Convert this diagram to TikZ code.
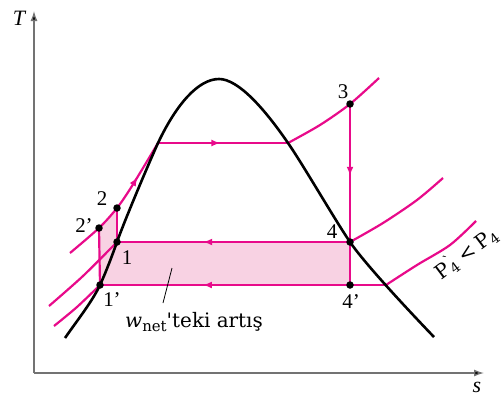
\documentclass[tikz,border=0pt]{standalone}
\usepackage{fontspec}
\setmainfont{Liberation Serif}
\newfontfamily\widefont{DejaVu Serif}
\usetikzlibrary{arrows.meta,decorations.markings}
\definecolor{cyclepink}{RGB}{232,10,138}
\definecolor{areapink}{RGB}{248,210,227}

\begin{document}
\begin{tikzpicture}[x=1bp,y=-1bp,>=Latex,
  every node/.style={font=\fontsize{21}{23}\selectfont,inner sep=1pt},
  axis/.style={draw=black!55,line width=1.3bp,-{Latex[length=10bp,width=7bp,fill=black]}},
  dome/.style={draw=black,line width=2.6bp},
  isobar/.style={draw=cyclepink,line width=2.2bp},
  midarrow/.style={postaction={decorate},
    decoration={markings,mark=at position #1 with {\arrow{Latex[length=9bp,width=7bp]}}}},
  statept/.style={circle,fill=black,inner sep=0pt,minimum size=7.5bp}]

\useasboundingbox (0,0) rectangle (504,396);

% state points
\coordinate (p1)  at (117,242);
\coordinate (p1p) at (100,285);
\coordinate (p2)  at (117,208);
\coordinate (p2p) at (99,228);
\coordinate (p3)  at (350,104);
\coordinate (p4)  at (350,242);
\coordinate (p4p) at (350,285);
\coordinate (satl) at (158,143);
\coordinate (satv) at (288,143);
\coordinate (satw) at (386,285);
\coordinate (crit) at (219,79);

% increase in net work
\fill[areapink] (p1p) -- (p2p) -- (p2) -- (p1) -- (p4) -- (p4p) -- cycle;

% axes
\coordinate (origin) at (34,373);
\draw[axis] (origin) -- (34,11);
\draw[axis] (origin) -- (484,373);
\node[font=\fontsize{22}{24}\selectfont\itshape] (Tlab) at (19,18) {T};
\node[font=\fontsize{22}{24}\selectfont\itshape] (slab) at (477,387) {s};

% boiler pressure line
\draw[isobar,midarrow=0.72] plot[smooth] coordinates {(70,253) (p2p) (p2) (132,186) (satl)};
\draw[isobar,midarrow=0.48] (satl) -- (satv);
\draw[isobar] plot[smooth] coordinates {(satv) (320,125) (p3) (379,78)};

% turbine, pumps
\draw[isobar,midarrow=0.52] (p3) -- (p4);
\draw[isobar] (p4) -- (p4p);
\draw[isobar] (p2) -- (p1);
\draw[isobar] (p2p) -- (p1p);

% condenser pressure P4
\draw[isobar] plot[smooth] coordinates {(49,306) (83,276) (p1)};
\draw[isobar,midarrow=0.63] (p4) -- (p1);
\draw[isobar] plot[smooth] coordinates {(p4) (383,223) (417,200) (443,178)};

% lowered condenser pressure P'4
\draw[isobar] plot[smooth] coordinates {(54,326) (77,307) (p1p)};
\draw[isobar,midarrow=0.64] (satw) -- (p1p);
\draw[isobar] plot[smooth] coordinates {(satw) (417,265) (450,245) (476,221)};

% saturation dome
\draw[dome] (65,338) .. controls (76,322) and (92,302) .. (p1p)
  .. controls (106,272) and (112,256) .. (p1)
  .. controls (124,222) and (148,165) .. (satl)
  .. controls (176,105) and (198,79) .. (crit)
  .. controls (238,79) and (264,108) .. (satv)
  .. controls (302,163) and (335,220) .. (p4)
  .. controls (365,264) and (410,312) .. (434,337);

% dots
\foreach \pp in {p1,p1p,p2,p2p,p3,p4,p4p}{
  \node[statept] at (\pp) {};
}

% state labels
\node (l2)  at (102,199) {2};
\node (l2p) at (84,226) {2'};
\node (l1)  at (127,258) {1};
\node (l1p) at (112,300) {1'};
\node (l3)  at (343,92) {3};
\node (l4)  at (332,232) {4};
\node (l4p) at (351,302) {4'};

% annotation
\node[font=\fontsize{20}{22}\widefont] (wnet) at (194,322)
  {\textit{w}\raisebox{-0.4ex}{\fontsize{15}{15}\selectfont net}'teki artış};
\coordinate (leadfoot) at (163,303);
\coordinate (areapt) at (172,268);
\draw[line width=0.8bp] (leadfoot) -- (areapt);

\node[font=\fontsize{20}{22}\widefont,rotate=37,anchor=base west] (plab) at (441,281)
  {P\rlap{\textsuperscript{`}}\textsubscript{4}\hspace{5pt}<\hspace{5pt}P\textsubscript{4}};

\end{tikzpicture}
\end{document}
